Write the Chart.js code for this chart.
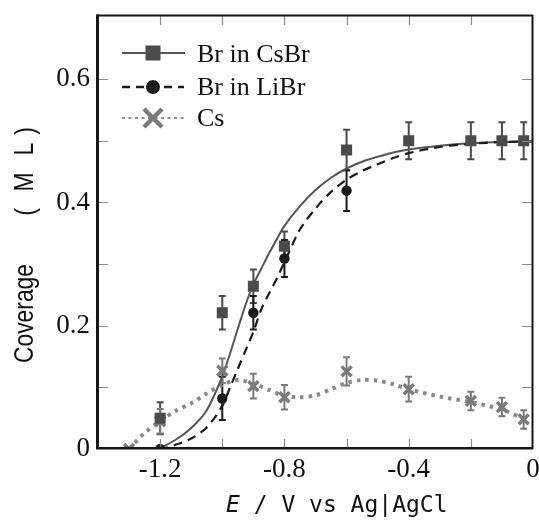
<!DOCTYPE html>
<html><head><meta charset="utf-8">
<script src="https://cdn.jsdelivr.net/npm/chart.js@4/dist/chart.umd.min.js"></script>
<style>html,body{margin:0;padding:0;background:#fff;}canvas{display:block;}</style>
</head><body>
<canvas id="c" width="539" height="521"></canvas>
<script>
// ---- data ----
const csbrE   = [-1.2, -1.0, -0.9, -0.8, -0.6, -0.4, -0.2, -0.1, -0.03];
const csbrCov = [0.05, 0.221, 0.264, 0.329, 0.485, 0.5, 0.5, 0.5, 0.5];
const csbrErr = [0.026, 0.027, 0.027, 0.024, 0.033, 0.03, 0.03, 0.03, 0.03];

const librE   = [-1.2, -1.0, -0.9, -0.8, -0.6];
const librCov = [0.0, 0.082, 0.221, 0.309, 0.419];
const librErr = [0, 0.035, 0.027, 0.03, 0.033];

const csE   = [-1.3, -1.2, -1.0, -0.9, -0.8, -0.6, -0.4, -0.2, -0.1, -0.03];
const csCov = [0.0, 0.045, 0.127, 0.102, 0.084, 0.126, 0.097, 0.078, 0.068, 0.048];
const csErr = [0, 0.02, 0.02, 0.02, 0.02, 0.023, 0.02, 0.015, 0.015, 0.015];

const fitCsbrE   = [-1.4, -1.3, -1.2, -1.15, -1.1, -1.05, -1.0, -0.975, -0.95, -0.925, -0.9, -0.875, -0.85, -0.825, -0.8, -0.75, -0.7, -0.65, -0.6, -0.55, -0.5, -0.45, -0.4, -0.3, -0.2, -0.1, 0];
const fitCsbrCov = [0, 0, 0.003, 0.015, 0.034, 0.063, 0.118, 0.155, 0.195, 0.234, 0.267, 0.292, 0.317, 0.34, 0.362, 0.394, 0.42, 0.44, 0.455, 0.466, 0.474, 0.481, 0.486, 0.492, 0.496, 0.498, 0.499];

const fitLibrE   = [-1.3, -1.2, -1.15, -1.1, -1.05, -1.0, -0.975, -0.95, -0.925, -0.9, -0.875, -0.85, -0.825, -0.8, -0.75, -0.7, -0.65, -0.6, -0.55, -0.5, -0.45, -0.4, -0.3, -0.2, -0.1, 0];
const fitLibrCov = [0, 0, 0.007, 0.017, 0.035, 0.07, 0.1, 0.13, 0.16, 0.19, 0.226, 0.252, 0.276, 0.303, 0.356, 0.39, 0.417, 0.437, 0.451, 0.462, 0.472, 0.48, 0.49, 0.495, 0.498, 0.499];

const fitCsE   = [-1.3, -1.25, -1.2, -1.15, -1.1, -1.05, -1.0, -0.95, -0.9, -0.85, -0.8, -0.75, -0.7, -0.65, -0.6, -0.55, -0.5, -0.45, -0.4, -0.3, -0.2, -0.1, -0.03];
const fitCsCov = [0, 0.026, 0.045, 0.062, 0.074, 0.09, 0.104, 0.112, 0.106, 0.096, 0.086, 0.084, 0.087, 0.097, 0.107, 0.112, 0.111, 0.105, 0.097, 0.085, 0.076, 0.064, 0.049];

const seriesNames = ['Br in CsBr', 'Br in LiBr', 'Cs'];

const xTickValues = [-1.2, -0.8, -0.4, 0];
const xTickLabels = ['-1.2', '-0.8', '-0.4', '0'];
const yTickValues = [0, 0.2, 0.4, 0.6];
const yTickLabels = ['0', '0.2', '0.4', '0.6'];
const xMarkTicks = [-1.2, -1.0, -0.8, -0.6, -0.4, -0.2];
const yMarkTicks = [0.1, 0.2, 0.3, 0.4, 0.5, 0.6];

const xTitleItalic = 'E';
const xTitleRest = ' / V vs Ag|AgCl';
const yTitleWord = 'Coverage';
const yTitleUnit = ['(', 'M', 'L', ')'];

// ---- helpers ----
const pts = (xs, ys) => xs.map((x, i) => ({x: x, y: ys[i]}));
const labelFor = (vals, labels) => v => {
  const i = vals.findIndex(t => Math.abs(t - v) < 1e-6);
  return i >= 0 ? labels[i] : null;
};

const C_CSBR = '#4b4b4b', C_LIBR = '#1c1c1c', C_CS = '#7a7a7a';

const errPlugin = {
  id: 'errbars',
  beforeDatasetsDraw(chart) {
    const {ctx, chartArea: a, scales: {x, y}} = chart;
    ctx.save();
    ctx.beginPath(); ctx.rect(a.left, a.top, a.right - a.left, a.bottom - a.top); ctx.clip();
    chart.data.datasets.forEach(ds => {
      if (!ds.errors) return;
      ctx.strokeStyle = ds.errColor; ctx.lineWidth = 2;
      ds.data.forEach((p, i) => {
        const e = ds.errors[i]; if (!e) return;
        const px = x.getPixelForValue(p.x);
        const y1 = y.getPixelForValue(p.y + e), y2 = y.getPixelForValue(p.y - e);
        ctx.beginPath();
        ctx.moveTo(px, y1); ctx.lineTo(px, y2);
        ctx.moveTo(px - 3.5, y1); ctx.lineTo(px + 3.5, y1);
        ctx.moveTo(px - 3.5, y2); ctx.lineTo(px + 3.5, y2);
        ctx.stroke();
      });
    });
    ctx.restore();
  }
};

const framePlugin = {
  id: 'frame',
  afterDatasetsDraw(chart) {
    const {ctx, chartArea: a, scales: {x, y}} = chart;
    ctx.save();
    ctx.strokeStyle = '#8a8a8a'; ctx.lineWidth = 1.2;
    ctx.beginPath();
    xMarkTicks.forEach(v => {
      const px = Math.round(x.getPixelForValue(v)) + 0.5;
      ctx.moveTo(px, a.bottom); ctx.lineTo(px, a.bottom - 10);
      ctx.moveTo(px, a.top); ctx.lineTo(px, a.top + 10);
    });
    yMarkTicks.forEach(v => {
      const py = Math.round(y.getPixelForValue(v)) + 0.5;
      ctx.moveTo(a.left, py); ctx.lineTo(a.left + 10, py);
      ctx.moveTo(a.right, py); ctx.lineTo(a.right - 11, py);
    });
    ctx.stroke();
    ctx.strokeStyle = '#151515';
    ctx.lineWidth = 2;
    ctx.beginPath(); ctx.moveTo(a.left - 1, a.top + 0.5); ctx.lineTo(a.right, a.top + 0.5); ctx.stroke();
    ctx.beginPath(); ctx.moveTo(a.right - 0.5, a.top); ctx.lineTo(a.right - 0.5, a.bottom); ctx.stroke();
    ctx.lineWidth = 3;
    ctx.beginPath(); ctx.moveTo(a.left - 0.5, a.top - 0.5); ctx.lineTo(a.left - 0.5, a.bottom); ctx.stroke();
    ctx.lineWidth = 2.5;
    ctx.beginPath(); ctx.moveTo(a.left - 2, a.bottom - 0.75); ctx.lineTo(a.right, a.bottom - 0.75); ctx.stroke();
    ctx.restore();
  }
};

const legendPlugin = {
  id: 'legendInside',
  afterDraw(chart) {
    const ctx = chart.ctx;
    const names = chart.data.datasets.slice(0, 3).map(d => d.label);
    ctx.save();
    ctx.setLineDash([]); ctx.strokeStyle = '#555'; ctx.lineWidth = 2;
    ctx.beginPath(); ctx.moveTo(122, 53); ctx.lineTo(185, 53); ctx.stroke();
    ctx.fillStyle = C_CSBR; ctx.fillRect(153 - 7.5, 53 - 7.5, 15, 15);
    ctx.setLineDash([8, 6]); ctx.strokeStyle = C_LIBR; ctx.lineWidth = 2.5;
    ctx.beginPath(); ctx.moveTo(122, 87); ctx.lineTo(184, 87); ctx.stroke();
    ctx.setLineDash([]);
    ctx.fillStyle = C_LIBR; ctx.beginPath(); ctx.arc(153, 87, 7, 0, Math.PI * 2); ctx.fill();
    ctx.setLineDash([3, 3.5]); ctx.strokeStyle = '#8a8a8a'; ctx.lineWidth = 2;
    ctx.beginPath(); ctx.moveTo(122, 118); ctx.lineTo(184, 118); ctx.stroke();
    ctx.setLineDash([]);
    ctx.strokeStyle = C_CS; ctx.lineWidth = 4.5;
    ctx.beginPath(); ctx.moveTo(144, 109); ctx.lineTo(162, 127); ctx.moveTo(162, 109); ctx.lineTo(144, 127); ctx.stroke();
    ctx.fillStyle = '#111'; ctx.font = '26px "Liberation Serif", "Times New Roman", serif';
    ctx.textAlign = 'left'; ctx.textBaseline = 'alphabetic';
    ctx.fillText(names[0], 197, 62);
    ctx.fillText(names[1], 197, 95);
    ctx.fillText(names[2], 197, 126);
    ctx.restore();
  }
};

const titlesPlugin = {
  id: 'axisTitles',
  afterDraw(chart) {
    const ctx = chart.ctx;
    ctx.save();
    ctx.fillStyle = '#111'; ctx.textBaseline = 'alphabetic'; ctx.textAlign = 'left';
    ctx.font = 'italic 23px "DejaVu Sans Mono", "Liberation Mono", monospace';
    ctx.fillText(xTitleItalic, 226, 512);
    const w = ctx.measureText(xTitleItalic).width;
    ctx.font = '23px "DejaVu Sans Mono", "Liberation Mono", monospace';
    ctx.fillText(xTitleRest, 226 + w, 512);
    ctx.translate(33, 363);
    ctx.rotate(-Math.PI / 2);
    ctx.font = '27px "Liberation Sans", Arial, sans-serif';
    ctx.save();
    ctx.scale(99 / ctx.measureText(yTitleWord).width, 1);
    ctx.fillText(yTitleWord, 0, 0);
    ctx.restore();
    ctx.textAlign = 'center';
    const centers = [151, 181, 214, 232];
    yTitleUnit.forEach((ch, i) => {
      ctx.save();
      ctx.translate(centers[i], 0);
      ctx.scale(0.85, 1);
      ctx.fillText(ch, 0, ch === '(' || ch === ')' ? 1 : 0);
      ctx.restore();
    });
    ctx.restore();
  }
};

const serif = {family: '"Liberation Serif", "Times New Roman", serif', size: 27};

new Chart(document.getElementById('c'), {
  type: 'scatter',
  data: {
    datasets: [
      {label: seriesNames[0], data: pts(csbrE, csbrCov), errors: csbrErr, errColor: C_CSBR,
       pointStyle: 'rect', pointRadius: 7.8, pointHoverRadius: 7.8, backgroundColor: C_CSBR, borderColor: C_CSBR, borderWidth: 0,
       showLine: false, order: 1, clip: 0},
      {label: seriesNames[1], data: pts(librE, librCov), errors: librErr, errColor: C_LIBR,
       pointStyle: 'circle', pointRadius: 5.2, pointHoverRadius: 5.2, backgroundColor: C_LIBR, borderColor: C_LIBR, borderWidth: 0,
       showLine: false, order: 3, clip: 0},
      {label: seriesNames[2], data: pts(csE, csCov), errors: csErr, errColor: C_CS,
       pointStyle: 'crossRot', pointRadius: 7, pointHoverRadius: 7, backgroundColor: C_CS, borderColor: C_CS, borderWidth: 3.5,
       showLine: false, order: 2, clip: 0},
      {label: 'fit CsBr', data: pts(fitCsbrE, fitCsbrCov), showLine: true, pointRadius: 0, borderColor: '#555', borderWidth: 2,
       tension: 0.3, order: 5, clip: 0},
      {label: 'fit LiBr', data: pts(fitLibrE, fitLibrCov), showLine: true, pointRadius: 0, borderColor: '#1c1c1c', borderWidth: 2.2,
       borderDash: [9, 6], tension: 0.3, order: 4, clip: 0},
      {label: 'fit Cs', data: pts(fitCsE, fitCsCov), showLine: true, pointRadius: 0, borderColor: '#8a8a8a', borderWidth: 4,
       borderDash: [3.5, 5], borderCapStyle: 'butt', tension: 0.3, order: 6, clip: 0}
    ]
  },
  options: {
    responsive: false, animation: false, devicePixelRatio: 1,
    layout: {autoPadding: false, padding: {top: 15, right: 6, left: 0, bottom: 0}},
    plugins: {legend: {display: false}, tooltip: {enabled: false}},
    scales: {
      x: {type: 'linear', min: -1.4, max: 0,
          grid: {display: false, drawTicks: false}, border: {display: false},
          ticks: {stepSize: 0.2, autoSkip: false, maxRotation: 0, padding: 5, color: '#111', font: serif,
                  callback: labelFor(xTickValues, xTickLabels)},
          afterFit: s => { s.height = 72; s.paddingLeft = 0; s.paddingRight = 0; s.paddingTop = 0; s.paddingBottom = 0; }},
      y: {type: 'linear', min: 0, max: 0.704,
          grid: {display: false, drawTicks: false}, border: {display: false},
          ticks: {stepSize: 0.1, autoSkip: false, padding: 8, color: '#111', font: serif,
                  callback: labelFor(yTickValues, yTickLabels)},
          afterFit: s => { s.width = 98; s.paddingTop = 0; s.paddingBottom = 0; s.paddingLeft = 0; s.paddingRight = 0; }}
    }
  },
  plugins: [errPlugin, framePlugin, legendPlugin, titlesPlugin]
});
</script>
</body></html>
